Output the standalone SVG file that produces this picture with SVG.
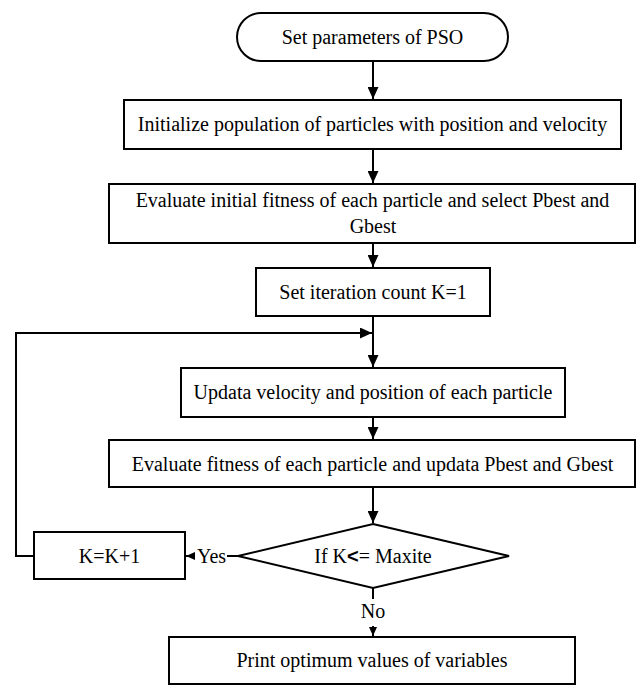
<svg xmlns="http://www.w3.org/2000/svg" width="637" height="685" viewBox="0 0 637 685">
  <style>
    .box { fill: #ffffff; stroke: #000000; stroke-width: 2; }
    .c { fill: none; stroke: #000000; stroke-width: 2; }
  </style>
  <defs>
    <marker id="ah" markerUnits="userSpaceOnUse" markerWidth="12" markerHeight="11" refX="12" refY="5.5" orient="auto">
      <path d="M0,0 L12,5.5 L0,11 z" fill="#000000"/>
    </marker>
    <marker id="ahs" markerUnits="userSpaceOnUse" markerWidth="9" markerHeight="8" refX="9" refY="4" orient="auto">
      <path d="M0,0 L9,4 L0,8 z" fill="#000000"/>
    </marker>
  </defs>
  <rect width="637" height="685" fill="#ffffff"/>

  <g id="connectors">
    <path class="c" d="M373,61 L373,99" marker-end="url(#ah)"/>
    <path class="c" d="M373,149 L373,183" marker-end="url(#ah)"/>
    <path class="c" d="M373,243 L373,267" marker-end="url(#ah)"/>
    <path class="c" d="M373,316 L373,367" marker-end="url(#ah)"/>
    <path class="c" d="M373,417 L373,439" marker-end="url(#ah)"/>
    <path class="c" d="M373,487 L373,523" marker-end="url(#ah)"/>
    <path class="c" d="M34,556 L16,556 L16,333 L372,333" marker-end="url(#ah)"/>
    <path class="c" d="M238,556 L186,556" marker-end="url(#ahs)"/>
    <path class="c" d="M373,588 L373,636" marker-end="url(#ahs)"/>
  </g>

  <g id="label-yes">
    <rect x="195" y="545" width="32" height="22" fill="#ffffff"/>
    <text x="211.5" y="563" style="font-family:'Liberation Serif',serif;font-size:20px;text-anchor:middle">Yes</text>
  </g>
  <g id="label-no">
    <rect x="359" y="599" width="28" height="27" fill="#ffffff"/>
    <text x="373" y="618" style="font-family:'Liberation Serif',serif;font-size:20px;text-anchor:middle">No</text>
  </g>

  <g id="start">
    <rect class="box" x="237" y="13" width="271" height="48" rx="24" ry="24"/>
    <text x="372.5" y="43.5" style="font-family:'Liberation Serif',serif;font-size:20px;text-anchor:middle">Set parameters of PSO</text>
  </g>
  <g id="init">
    <rect class="box" x="124" y="100" width="497" height="49"/>
    <text x="372.5" y="131" style="font-family:'Liberation Serif',serif;font-size:20px;text-anchor:middle">Initialize population of particles with position and velocity</text>
  </g>
  <g id="eval-initial">
    <rect class="box" x="109" y="184" width="526" height="59"/>
    <text x="372.5" y="207" style="font-family:'Liberation Serif',serif;font-size:20px;text-anchor:middle">Evaluate initial fitness of each particle and select Pbest and</text>
    <text x="373" y="233" style="font-family:'Liberation Serif',serif;font-size:20px;text-anchor:middle">Gbest</text>
  </g>
  <g id="set-k">
    <rect class="box" x="256" y="268" width="234" height="48"/>
    <text x="373" y="299" style="font-family:'Liberation Serif',serif;font-size:20px;text-anchor:middle">Set iteration count K=1</text>
  </g>
  <g id="update">
    <rect class="box" x="181" y="368" width="384" height="49"/>
    <text x="373" y="398.5" style="font-family:'Liberation Serif',serif;font-size:20px;text-anchor:middle">Updata velocity and position of each particle</text>
  </g>
  <g id="eval">
    <rect class="box" x="109" y="440" width="526" height="47"/>
    <text x="372.5" y="470.5" style="font-family:'Liberation Serif',serif;font-size:20px;text-anchor:middle">Evaluate fitness of each particle and updata Pbest and Gbest</text>
  </g>
  <g id="decision">
    <polygon class="box" points="373,524 509,556 373,588 238,556"/>
    <text x="373" y="563" style="font-family:'Liberation Serif',serif;font-size:20px;text-anchor:middle">If K<tspan style="font-family:'Liberation Sans',sans-serif;font-weight:bold">&lt;</tspan>= Maxite</text>
  </g>
  <g id="increment">
    <rect class="box" x="34" y="532" width="151" height="47"/>
    <text x="109.5" y="563" style="font-family:'Liberation Serif',serif;font-size:20px;text-anchor:middle">K=K+1</text>
  </g>
  <g id="print">
    <rect class="box" x="169" y="637" width="406" height="47"/>
    <text x="372" y="667" style="font-family:'Liberation Serif',serif;font-size:20px;text-anchor:middle">Print optimum values of variables</text>
  </g>
</svg>
